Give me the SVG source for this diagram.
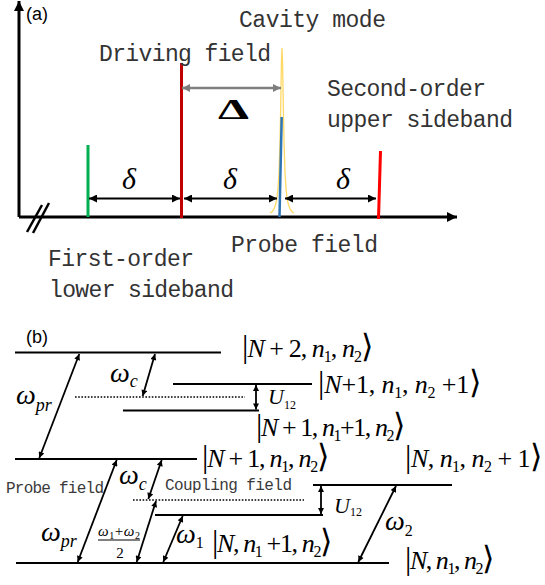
<svg xmlns="http://www.w3.org/2000/svg" width="545" height="585" viewBox="0 0 545 585">
<defs>
<style>
.ax{stroke:#000;stroke-width:3;fill:none}
.dl{stroke:#000;stroke-width:2;marker-start:url(#ab);marker-end:url(#ab)}
.lvl{stroke:#000;stroke-width:2}
.dot{stroke:#000;stroke-width:1.5;stroke-dasharray:1.6 1.6}
.arr{stroke:#000;stroke-width:1.8;marker-start:url(#as);marker-end:url(#as)}
.mono{font-family:"Liberation Mono",monospace;font-size:23px;fill:#333}
.mono2{font-family:"Liberation Mono",monospace;font-size:16px;fill:#3a3a3a}
.lab{font-family:"Liberation Sans",Arial,sans-serif;font-size:18px;fill:#000}
.ket{font-family:"Liberation Serif",serif;font-size:26px;fill:#000}
.i{font-style:italic}
.br{font-size:32px;font-style:normal}
.sb{font-size:16px}
.gk{font-family:"Liberation Serif",serif;font-style:italic;fill:#000}
</style>
<marker id="ab" viewBox="0 0 10 10" refX="10" refY="5" markerWidth="9" markerHeight="8" markerUnits="userSpaceOnUse" orient="auto-start-reverse"><path d="M0,0 L10,5 L0,10 z" fill="#000"/></marker>
<marker id="ag" viewBox="0 0 10 10" refX="10" refY="5" markerWidth="10" markerHeight="8" markerUnits="userSpaceOnUse" orient="auto-start-reverse"><path d="M0,0 L10,5 L0,10 z" fill="#7f7f7f"/></marker>
<marker id="as" viewBox="0 0 10 10" refX="10" refY="5" markerWidth="8" markerHeight="6" markerUnits="userSpaceOnUse" orient="auto-start-reverse"><path d="M0,0 L10,5 L0,10 z" fill="#000"/></marker>
<marker id="ax" viewBox="0 0 10 10" refX="10" refY="5" markerWidth="12" markerHeight="10" markerUnits="userSpaceOnUse" orient="auto"><path d="M0,0 L10,5 L0,10 z" fill="#000"/></marker>
</defs>

<!-- (a) spectrum -->
<g id="panel-a">
<text class="lab" x="26" y="20">(a)</text>
<g id="axes">
<line class="ax" x1="19" y1="217" x2="19" y2="1" marker-end="url(#ax)"/>
<line class="ax" x1="19" y1="217" x2="457" y2="217" marker-end="url(#ax)"/>
<line x1="27" y1="232" x2="42" y2="205" stroke="#000" stroke-width="2.5"/>
<line x1="33" y1="233" x2="49" y2="203" stroke="#000" stroke-width="2.5"/>
</g>
<g id="first-lower">
<line x1="88" y1="145" x2="88" y2="217" stroke="#00b050" stroke-width="3"/>
<text class="mono" x="48" y="266" textLength="146">First-order</text>
<text class="mono" x="49" y="297" textLength="185">lower sideband</text>
</g>
<g id="driving">
<line x1="181.5" y1="63" x2="181.5" y2="218" stroke="#c00000" stroke-width="3"/>
<text class="mono" x="99" y="61" textLength="172">Driving field</text>
</g>
<g id="cavity">
<polyline fill="none" stroke="#ffd966" stroke-width="1.3" points="270,213.3 272,211.7 274,209 276,203 277,197.6 278,188.6 279,172 280,141 280.5,117 281,88 281.5,60 282,48 282.5,60 283,88 283.5,117 284,141 285,172 286,188.6 287,197.6 288,203 290,209 292,211.7 294,213.3"/>
<text class="mono" x="239" y="27" textLength="147">Cavity mode</text>
</g>
<g id="probe">
<line x1="281.7" y1="117" x2="279.5" y2="217" stroke="#2e75b6" stroke-width="2.5"/>
<text class="mono" x="231" y="252" textLength="147">Probe field</text>
</g>
<g id="second-upper">
<line x1="380.5" y1="151" x2="378.5" y2="219" stroke="#ff0000" stroke-width="3"/>
<text class="mono" x="327" y="96" textLength="159">Second-order</text>
<text class="mono" x="327" y="127" textLength="186">upper sideband</text>
</g>
<g id="connectors-a">
<line x1="182" y1="88" x2="281" y2="88" stroke="#7f7f7f" stroke-width="2.5" marker-start="url(#ag)" marker-end="url(#ag)"/>
<line class="dl" x1="89" y1="198.5" x2="180" y2="198.5"/>
<line class="dl" x1="184" y1="198.5" x2="277" y2="198.5"/>
<line class="dl" x1="285" y1="198.5" x2="376" y2="198.5"/>
</g>
<text x="218" y="119" font-family="Liberation Serif,serif" font-weight="bold" font-size="29" textLength="31" lengthAdjust="spacingAndGlyphs">Δ</text>
<text class="gk" x="129" y="189" text-anchor="middle" font-size="30">δ</text>
<text class="gk" x="230" y="189" text-anchor="middle" font-size="30">δ</text>
<text class="gk" x="343" y="189" text-anchor="middle" font-size="30">δ</text>
</g>

<!-- (b) level scheme -->
<g id="panel-b">
<text class="lab" x="26" y="343">(b)</text>

<g id="lvl-N2">
<line class="lvl" x1="15" y1="352.5" x2="221" y2="352.5"/>
<text class="ket" x="242" y="357" textLength="131"><tspan class="br">|</tspan><tspan class="i">N</tspan> + 2, <tspan class="i">n</tspan><tspan class="sb" dy="5">1</tspan><tspan dy="-5">, </tspan><tspan class="i">n</tspan><tspan class="sb" dy="5">2</tspan><tspan class="br" dy="-5">⟩</tspan></text>
</g>
<g id="lvl-N1-n2p1">
<line class="lvl" x1="173" y1="384" x2="312" y2="384"/>
<text class="ket" x="318" y="393" textLength="163"><tspan class="br">|</tspan><tspan class="i">N</tspan>+1, <tspan class="i">n</tspan><tspan class="sb" dy="5">1</tspan><tspan dy="-5">, </tspan><tspan class="i">n</tspan><tspan class="sb" dy="5">2</tspan><tspan dy="-5"> +1</tspan><tspan class="br">⟩</tspan></text>
</g>
<g id="lvl-N1-n1p1">
<line class="lvl" x1="123" y1="410.5" x2="259" y2="410.5"/>
<text class="ket" x="256" y="436" textLength="149"><tspan class="br">|</tspan><tspan class="i">N</tspan> + 1, <tspan class="i">n</tspan><tspan class="sb" dy="5">1</tspan><tspan dy="-5">+1, </tspan><tspan class="i">n</tspan><tspan class="sb" dy="5">2</tspan><tspan class="br" dy="-5">⟩</tspan></text>
</g>
<g id="lvl-N1">
<line class="lvl" x1="15" y1="459" x2="197" y2="459"/>
<text class="ket" x="202" y="467" textLength="127"><tspan class="br">|</tspan><tspan class="i">N</tspan> + 1, <tspan class="i">n</tspan><tspan class="sb" dy="5">1</tspan><tspan dy="-5">, </tspan><tspan class="i">n</tspan><tspan class="sb" dy="5">2</tspan><tspan class="br" dy="-5">⟩</tspan></text>
</g>
<g id="lvl-N-n2p1">
<line class="lvl" x1="313" y1="485" x2="452" y2="485"/>
<text class="ket" x="405" y="467" textLength="137"><tspan class="br">|</tspan><tspan class="i">N</tspan>, <tspan class="i">n</tspan><tspan class="sb" dy="5">1</tspan><tspan dy="-5">, </tspan><tspan class="i">n</tspan><tspan class="sb" dy="5">2</tspan><tspan dy="-5"> + 1</tspan><tspan class="br">⟩</tspan></text>
</g>
<g id="lvl-N-n1p1">
<line class="lvl" x1="155" y1="515" x2="323" y2="515"/>
<text class="ket" x="212" y="552" textLength="120"><tspan class="br">|</tspan><tspan class="i">N</tspan>, <tspan class="i">n</tspan><tspan class="sb" dy="5">1</tspan><tspan dy="-5"> +1, </tspan><tspan class="i">n</tspan><tspan class="sb" dy="5">2</tspan><tspan class="br" dy="-5">⟩</tspan></text>
</g>
<g id="lvl-N">
<line class="lvl" x1="16" y1="563" x2="389" y2="563"/>
<text class="ket" x="405" y="569" textLength="89"><tspan class="br">|</tspan><tspan class="i">N</tspan>, <tspan class="i">n</tspan><tspan class="sb" dy="5">1</tspan><tspan dy="-5">, </tspan><tspan class="i">n</tspan><tspan class="sb" dy="5">2</tspan><tspan class="br" dy="-5">⟩</tspan></text>
</g>

<g id="virtual-levels">
<line class="dot" x1="75" y1="397" x2="245" y2="397"/>
<line class="dot" x1="133" y1="500" x2="304" y2="500"/>
</g>

<g id="connectors-b">
<line class="arr" x1="79.3" y1="354" x2="39.3" y2="458"/>
<line class="arr" x1="155" y1="354" x2="142.7" y2="396"/>
<line class="arr" x1="256" y1="385" x2="256" y2="409.5"/>
<line class="arr" x1="116.7" y1="460" x2="77.7" y2="562"/>
<line class="arr" x1="161.7" y1="460" x2="148.3" y2="499"/>
<line class="arr" x1="156" y1="501" x2="136.7" y2="562"/>
<line class="arr" x1="182.7" y1="516" x2="163.3" y2="562"/>
<line class="arr" x1="396" y1="486" x2="358.3" y2="562"/>
<line class="arr" x1="321" y1="486" x2="321" y2="514"/>
</g>

<g id="labels-b">
<text class="gk" x="16" y="404" font-size="28">ω<tspan font-size="18" dy="7">pr</tspan></text>
<text class="gk" x="110" y="382" font-size="28">ω<tspan font-size="18" dy="5">c</tspan></text>
<text class="gk" x="268" y="404" font-size="22">U<tspan font-size="12" font-style="normal" dy="5">12</tspan></text>
<text class="mono2" x="6" y="493" textLength="98">Probe field</text>
<text class="mono2" x="165" y="490" textLength="127">Coupling field</text>
<text class="gk" x="119" y="484" font-size="28">ω<tspan font-size="18" dy="6">c</tspan></text>
<text class="gk" x="41" y="541" font-size="28">ω<tspan font-size="18" dy="6">pr</tspan></text>
<text class="gk" x="98" y="536" font-size="15" textLength="42">ω<tspan font-size="10" font-style="normal" dy="3">1</tspan><tspan font-style="normal" dy="-3">+</tspan>ω<tspan font-size="10" font-style="normal" dy="3">2</tspan></text>
<line x1="98" y1="540" x2="140" y2="540" stroke="#000" stroke-width="1"/>
<text x="120" y="558" text-anchor="middle" font-family="Liberation Serif,serif" font-size="15">2</text>
<text class="gk" x="176" y="543" font-size="28">ω<tspan font-size="16" font-style="normal" dy="5">1</tspan></text>
<text class="gk" x="385" y="530" font-size="28">ω<tspan font-size="16" font-style="normal" dy="6">2</tspan></text>
<text class="gk" x="334" y="513" font-size="22">U<tspan font-size="12" font-style="normal" dy="3">12</tspan></text>
</g>
</g>
</svg>
